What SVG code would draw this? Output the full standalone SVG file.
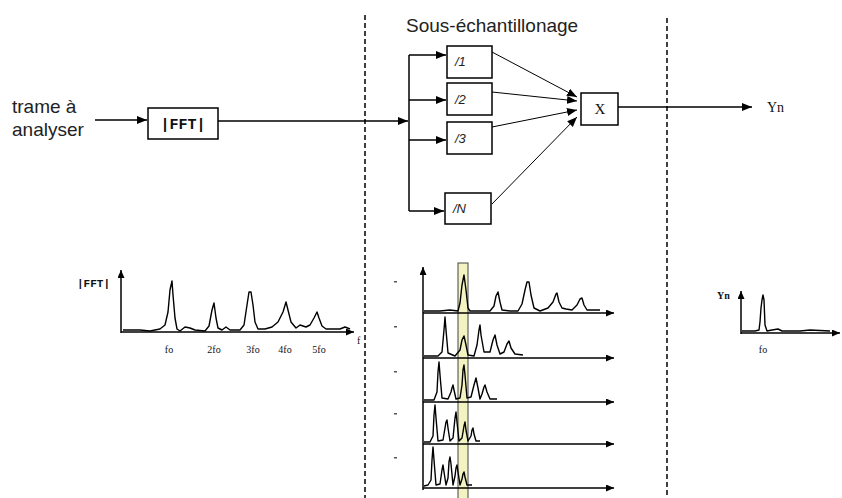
<svg xmlns="http://www.w3.org/2000/svg" width="842" height="498" viewBox="0 0 842 498">
<defs>
<style>
.box{fill:#fff;stroke:#000;stroke-width:1.5}
.ln{fill:none;stroke:#000;stroke-width:1.5}
.thin{fill:none;stroke:#000;stroke-width:1}
.dash{fill:none;stroke:#000;stroke-width:1.5;stroke-dasharray:5,3}
.spec{fill:none;stroke:#000;stroke-width:1.4;stroke-linejoin:round}
.sans{font-family:"Liberation Sans",Arial,sans-serif;fill:#222}
.serif{font-family:"Liberation Serif","Times New Roman",serif;fill:#111}
.mono{font-family:"Liberation Mono","Courier New",monospace;fill:#111}
</style>
<marker id="ah" markerUnits="userSpaceOnUse" markerWidth="11" markerHeight="9" refX="10" refY="4" orient="auto"><path d="M0,0 L10,4 L0,8 z" fill="#000"/></marker>
<marker id="as" markerUnits="userSpaceOnUse" markerWidth="9" markerHeight="7" refX="8" refY="3.5" orient="auto"><path d="M0,0 L8,3.5 L0,7 z" fill="#000"/></marker>
</defs>
<rect width="842" height="498" fill="#fff"/>

<!-- section separators -->
<line class="dash" x1="365" y1="15" x2="365" y2="498"/>
<line class="dash" x1="667" y1="18" x2="667" y2="498"/>

<text class="sans" x="406" y="32" font-size="19">Sous-échantillonage</text>

<g id="input">
<text class="sans" x="12" y="113" font-size="19">trame à</text>
<text class="sans" x="12" y="136" font-size="19">analyser</text>
</g>

<g id="fft">
<rect class="box" x="148" y="108" width="70" height="31"/>
<text class="mono" x="183" y="129" font-size="15" font-weight="bold" text-anchor="middle">|FFT|</text>
</g>

<g id="div1"><rect class="box" x="447" y="46" width="45" height="32"/><text class="sans" x="455" y="66" font-size="13" font-style="italic">/1</text></g>
<g id="div2"><rect class="box" x="447" y="83" width="45" height="32"/><text class="sans" x="455" y="104" font-size="13" font-style="italic">/2</text></g>
<g id="div3"><rect class="box" x="447" y="122" width="45" height="32"/><text class="sans" x="455" y="143" font-size="13" font-style="italic">/3</text></g>
<g id="divN"><rect class="box" x="445" y="193" width="46" height="31"/><text class="sans" x="453" y="213" font-size="13" font-style="italic">/N</text></g>

<g id="mult"><rect class="box" x="581" y="93" width="37" height="32"/><text class="serif" x="600" y="114" font-size="15" text-anchor="middle">X</text></g>

<g id="yn"><text class="serif" x="767" y="112" font-size="14">Yn</text></g>

<g id="connectors">
<line class="ln" x1="95" y1="120" x2="147" y2="120" marker-end="url(#ah)"/>
<line class="ln" x1="218" y1="121" x2="408" y2="121" marker-end="url(#ah)"/>
<line class="ln" x1="409" y1="55" x2="409" y2="211"/>
<line class="ln" x1="409" y1="55" x2="446" y2="55" marker-end="url(#ah)"/>
<line class="ln" x1="409" y1="100" x2="446" y2="100" marker-end="url(#ah)"/>
<line class="ln" x1="409" y1="140" x2="446" y2="140" marker-end="url(#ah)"/>
<line class="ln" x1="409" y1="211" x2="444" y2="211" marker-end="url(#ah)"/>
<line class="thin" x1="492" y1="52" x2="577" y2="97" marker-end="url(#ah)"/>
<line class="thin" x1="492" y1="92" x2="577" y2="101" marker-end="url(#ah)"/>
<line class="thin" x1="492" y1="127" x2="577" y2="110" marker-end="url(#ah)"/>
<line class="thin" x1="492" y1="204" x2="577" y2="117" marker-end="url(#ah)"/>
<line class="ln" x1="618" y1="107" x2="752" y2="107" marker-end="url(#ah)"/>
</g>

<!-- left spectrum |FFT| -->
<g id="spectrum-fft">
<line class="ln" x1="121" y1="333" x2="121" y2="270" marker-end="url(#as)"/>
<line class="ln" x1="121" y1="332" x2="354" y2="332" marker-end="url(#as)"/>
<polyline class="spec" points="123,330 140,330 150,331 160,329 165,325 168,312 170,290 172,281 173,295 175,318 177,329 180,331 185,327 190,328 195,330 205,331 209,326 212,310 214,303 216,318 218,328 222,330 226,327 230,330 240,330 244,325 247,305 249,292 251,292 253,305 255,322 258,329 265,329 272,327 278,322 283,312 286,302 288,310 291,322 296,328 300,325 306,327 310,325 314,318 317,312 319,318 322,326 326,329 340,329 345,327 350,329"/>
<text class="mono" x="77" y="287" font-size="11" font-weight="bold">|FFT|</text>
<text class="serif" x="357" y="344" font-size="10">f</text>
<g class="serif" font-size="10" text-anchor="middle">
<text x="169" y="353">fo</text>
<text x="214" y="353">2fo</text>
<text x="253" y="353">3fo</text>
<text x="285" y="353">4fo</text>
<text x="319" y="353">5fo</text>
</g>
</g>

<!-- middle spectra -->
<g id="spectra-sub">
<rect x="458" y="263" width="10" height="240" fill="#f3f3c2" stroke="#444" stroke-width="1"/>
<line class="ln" x1="423" y1="490" x2="423" y2="267" marker-end="url(#as)"/>
<line class="ln" x1="423" y1="313" x2="614" y2="313" marker-end="url(#as)"/>
<line class="ln" x1="423" y1="358" x2="614" y2="358" marker-end="url(#as)"/>
<line class="ln" x1="423" y1="402" x2="614" y2="402" marker-end="url(#as)"/>
<line class="ln" x1="423" y1="444" x2="614" y2="444" marker-end="url(#as)"/>
<line class="ln" x1="423" y1="488" x2="614" y2="488" marker-end="url(#as)"/>
<polyline class="spec" points="424,311 440,311 450,310 458,311 460,303 462,285 464,275 466,290 468,308 470,311 490,311 494,306 496,296 498,292 500,302 502,310 510,311 518,311 522,304 525,290 527,282 529,282 531,295 534,308 540,311 548,308 553,302 556,294 557,293 559,302 562,308 566,309 572,310 577,305 580,299 582,298 584,305 587,310 600,310"/>
<polyline class="spec" points="424,356 438,356 442,352 444,330 445,317 446,330 448,353 455,356 460,350 462,340 464,336 466,345 468,355 474,356 477,345 479,330 480,325 481,335 484,352 490,352 493,340 495,335 497,345 500,354 504,352 507,344 509,341 511,348 515,354 523,355"/>
<polyline class="spec" points="424,400 434,400 437,392 438,372 439,362 440,375 442,398 448,399 451,392 452,388 453,385 454,390 456,399 460,398 462,385 463,370 464,365 465,375 467,398 471,397 474,385 476,378 478,388 480,399 482,394 484,387 485,385 487,392 490,399 497,399"/>
<polyline class="spec" points="424,442 430,442 433,436 434,415 435,405 436,418 438,441 443,440 445,428 446,422 447,420 448,428 450,441 453,438 455,418 456,412 457,422 459,441 462,438 464,426 465,422 466,430 468,441 471,436 472,430 473,428 474,434 476,441 480,441"/>
<polyline class="spec" points="424,486 428,485 431,480 432,460 433,447 434,460 436,485 440,484 442,470 443,465 444,472 446,485 448,478 449,462 450,457 451,464 453,485 455,476 456,468 457,465 458,472 460,485 462,479 463,474 464,472 465,477 467,485 472,485"/>
<g fill="#555">
<rect x="394" y="281" width="3" height="1.5"/>
<rect x="394" y="326" width="3" height="1.5"/>
<rect x="394" y="371" width="3" height="1.5"/>
<rect x="394" y="413" width="3" height="1.5"/>
<rect x="394" y="457" width="3" height="1.5"/>
</g>
</g>

<!-- right spectrum Yn -->
<g id="spectrum-yn">
<line class="ln" x1="741" y1="334" x2="741" y2="291" marker-end="url(#as)"/>
<line class="ln" x1="741" y1="333" x2="840" y2="333" marker-end="url(#as)"/>
<polyline class="spec" points="742,331 755,331 759,330 760,322 761,308 762,300 763,295 764,300 765,325 767,331 772,330 778,329 782,331 800,331 810,330 830,331"/>
<text class="serif" x="717" y="299" font-size="10" font-weight="bold">Yn</text>
<text class="serif" x="763" y="353" font-size="10" text-anchor="middle">fo</text>
</g>
</svg>
